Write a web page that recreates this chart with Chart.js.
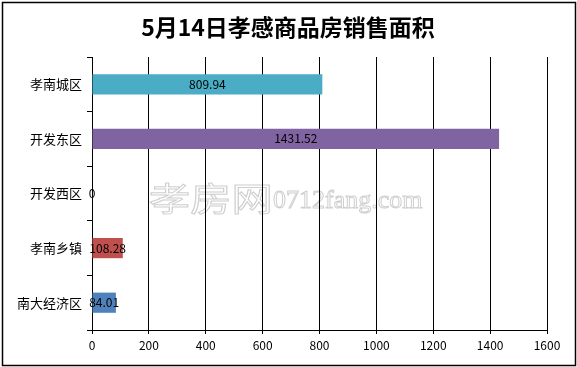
<!DOCTYPE html>
<html>
<head>
<meta charset="utf-8">
<script src="https://cdn.jsdelivr.net/npm/chart.js@4"></script>
<style>
  html, body { margin: 0; padding: 0; background: #fff; }
  #wrap { width: 577px; height: 367px; }
</style>
</head>
<body>
<div id="wrap"><canvas id="myChart" width="577" height="367"></canvas></div>
<script>
/* global Chart */

// data
var categories = ['孝南城区', '开发东区', '开发西区', '孝南乡镇', '南大经济区'];
var areaValues = [809.94, 1431.52, 0, 108.28, 84.01];
var barColors = ['#4BACC6', '#8064A2', '#9BBB59', '#C0504D', '#4F81BD'];
var xTicks = [0, 200, 400, 600, 800, 1000, 1200, 1400, 1600];
var titleText = '5月14日孝感商品房销售面积';

var cjk = '"Noto Sans CJK SC", "Noto Sans", sans-serif';

// title, watermark and outer frame
var decoPlugin = {
  id: 'deco',
  beforeDraw: function (chart) {
    var ctx = chart.ctx;
    ctx.save();
    ctx.fillStyle = '#fff';
    ctx.fillRect(0, 0, chart.width, chart.height);
    // faint outlined watermark
    ctx.lineWidth = 1;
    ctx.strokeStyle = '#cfcfcf';
    ctx.fillStyle = '#fff';
    ctx.textBaseline = 'middle';
    ctx.textAlign = 'left';
    ctx.save();
    ctx.translate(149, 198);
    ctx.scale(1.25, 1);
    ctx.font = '33px ' + cjk;
    ctx.fillText('孝房网', 0, 0);
    ctx.strokeText('孝房网', 0, 0);
    ctx.restore();
    ctx.font = '26px "Liberation Serif", serif';
    ctx.fillText('0712fang.com', 273, 201);
    ctx.strokeText('0712fang.com', 273, 201);
    ctx.restore();
  },
  afterDraw: function (chart) {
    var ctx = chart.ctx;
    ctx.save();
    ctx.fillStyle = '#000';
    ctx.font = 'bold 23px ' + cjk;
    ctx.textAlign = 'center';
    ctx.textBaseline = 'middle';
    ctx.fillText(titleText, 288, 27);
    ctx.strokeStyle = '#000';
    ctx.lineWidth = 1.5;
    ctx.strokeRect(2.5, 2.5, 573, 363);
    ctx.restore();
  }
};

// value labels centred on each bar
var barLabels = {
  id: 'barLabels',
  afterDatasetsDraw: function (chart) {
    var ctx = chart.ctx;
    var meta = chart.getDatasetMeta(0);
    ctx.save();
    ctx.fillStyle = '#000';
    ctx.font = '12px ' + cjk;
    ctx.textAlign = 'center';
    ctx.textBaseline = 'middle';
    meta.data.forEach(function (bar, i) {
      var p = bar.getProps(['x', 'y', 'base'], true);
      ctx.fillText(String(areaValues[i]), (p.x + p.base) / 2, p.y);
    });
    ctx.restore();
  }
};

var ctx = document.getElementById('myChart').getContext('2d');
var myChart = new Chart(ctx, {
  type: 'bar',
  data: {
    labels: categories,
    datasets: [{
      data: areaValues,
      backgroundColor: barColors,
      borderWidth: 0,
      barPercentage: 0.37,
      categoryPercentage: 1
    }]
  },
  options: {
    indexAxis: 'y',
    responsive: false,
    animation: false,
    layout: { padding: { top: 57, right: 30, bottom: 0, left: 0 } },
    plugins: {
      legend: { display: false },
      tooltip: { enabled: false },
      title: { display: false }
    },
    scales: {
      x: {
        min: 0,
        max: 1600,
        afterBuildTicks: function (scale) {
          scale.ticks = xTicks.map(function (v) { return { value: v }; });
        },
        afterFit: function (scale) { scale.height = 37; },
        grid: { color: '#000', lineWidth: 1, tickLength: 4, drawTicks: true },
        border: { color: '#000', width: 1 },
        ticks: {
          color: '#000',
          font: { family: cjk, size: 12 },
          padding: 4,
          maxRotation: 0,
          callback: function (v) { return String(v); }
        }
      },
      y: {
        afterFit: function (scale) { scale.width = 92; },
        grid: { drawOnChartArea: false, color: '#000', tickLength: 5, offset: true },
        border: { color: '#000', width: 1 },
        ticks: { color: '#000', font: { family: cjk, size: 13 }, padding: 5 }
      }
    }
  },
  plugins: [decoPlugin, barLabels]
});
</script>
</body>
</html>
